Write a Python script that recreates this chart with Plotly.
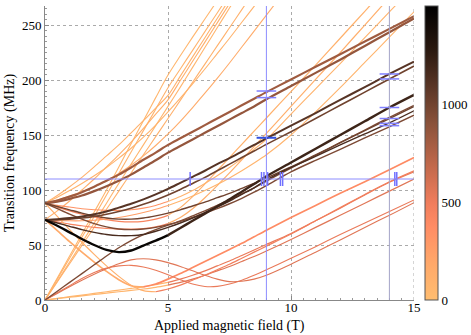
import plotly.graph_objects as go
from plotly.colors import sample_colorscale

# ---------------- data ----------------
B = [0, 0.5, 1, 1.5, 2, 2.5, 3, 3.5, 4, 4.5, 5, 5.5, 6, 6.5, 7, 7.5, 8, 8.5, 9, 10, 11, 12, 13, 14, 15]
N = None

P1 = [88, 89.5, 92, 95, 99, 103.5, 108.5, 114, 120.5, 127, 134, 140, 146, 152, 158, 164, 170, 176, 182.5, 194.5, 206.5, 218.5, 231, 243.5, 256]
P2 = [88, 90.5, 94, 98, 103, 108.5, 114, 120.5, 127.5, 134, 141, 147, 153, 159, 165, 171, 177, 183, 189, 200.5, 212, 223.5, 235, 246.5, 258]
P3 = [73, 73.5, 74.5, 76, 78, 80.5, 84, 87.5, 91.5, 96, 101, 106.5, 112, 117.5, 123.5, 129, 135, 141, 147, 158.5, 170, 182, 193.5, 205.5, 216.7]
P4 = [73, 73, 73.5, 74.5, 76, 78, 80.5, 83.5, 87, 91, 95.5, 100.5, 106, 111.5, 117.5, 123.5, 129.5, 135.5, 141.5, 153, 165, 177, 189, 201, 212.7]

D1 = [73, 67.5, 61.5, 55.5, 50, 45.5, 43.5, 45, 49.5, 54, 59, 65.5, 72, 78.5, 85, 91.5, 98.5, 105.5, 112.5, 125, 137.5, 150, 162.5, 175, 186.5]
D2 = [88, 85, 82, 79, 76.5, 74.5, 73.5, 73.5, 74.5, 76.5, 79, 82, 85.5, 89, 93, 97, 101.5, 106, 111, 121, 132, 143, 154, 165, 176]
D3 = [73, 70, 67, 64, 61.5, 59.5, 58.5, 58.5, 59.5, 62.5, 66, 70, 74.5, 79.5, 84.5, 90, 96, 102, 109, 120.5, 130.5, 141, 151, 161, 172]
D4 = [88, 83, 78, 73.5, 69.5, 66.5, 64.5, 64, 64.5, 66, 68.5, 71.5, 75, 79, 83, 87.5, 92.5, 98, 104, 116.5, 127, 137, 147.5, 157.5, 168]
D5 = [0, 8, 16, 24, 32, 40, 47.5, 54, 59.5, 64, 68, 72, 76.5, 81, 86, 91, 96.5, 102, 108, 120, 131.5, 143, 154.5, 166, 177]

K1 = [88, 84.5, 81, 78, 75.5, 73, 71.5, 71, 71.5, 73.5, 77, 84, 94, 105.5, 117.5, 129.5, 141.5, 153.5, 165.5, 189.5, 213.5, 238, 262.5, 287, N]
K2 = [73, 71, 69, 67.5, 66, 65, 64.5, 64.5, 65, 66.5, 69.5, 75, 83, 93, 104, 115.5, 127.5, 139.5, 151.5, 176, 200.5, 225, 250, 275, N]
K3 = [88, 86, 84.5, 83, 82, 81.5, 81.5, 82, 83.5, 86, 89.5, 94, 99.5, 106, 113, 120.5, 128.5, 137, 146, 169, 192, 215, 238.5, 262, 285]
K4 = [73, 72.5, 72, 72, 72.5, 73.5, 75, 77, 79.5, 82.5, 86, 90, 94.5, 99.5, 105, 111, 117.5, 124.5, 132, 150, 171, 193, 216, 239, 262]

L1 = [0, 20, 40, 60, 80, 100, 121, 142, 163, 184, 204.5, 222, 239, 255.5, 272, N, N, N, N, N, N, N, N, N, N]
L2 = [0, 19, 38, 57, 76, 95.5, 115, 134.5, 154, 173.5, 193, 210, 227, 244, 261, 278, N, N, N, N, N, N, N, N, N]
L3 = [88, 95, 103, 111.5, 121, 131, 141, 152, 163, 174.5, 186, 203.5, 221, 238.5, 256, 273.5, N, N, N, N, N, N, N, N, N]
L4 = [73, 81, 90, 100, 110, 121, 132, 143.5, 156, 169, 182, 199.5, 217, 234.5, 252, 269.5, N, N, N, N, N, N, N, N, N]
L5 = [0, 17, 34.5, 52, 70, 88, 106, 123.5, 141, 158.5, 176, 193.5, 211.5, 229.5, 247.5, 265.5, 283.5, N, N, N, N, N, N, N, N]
L6 = [88, 93.5, 99.5, 106, 113, 120.5, 129, 138, 148, 159, 171, 183.5, 196.5, 210, 224, 238, 252.5, 267, 281.5, N, N, N, N, N, N]
L7 = [0, 16.5, 33, 49.5, 66, 82.5, 99, 115.5, 132, 148.5, 165, 181.5, 198, 214.5, 231, 247.5, 264, 280.5, N, N, N, N, N, N, N]
L8 = [88, 91, 94.5, 98.5, 103, 108.5, 115, 122.5, 131, 140.5, 151, 162.5, 175, 188, 201.5, 215.5, 230, 244.5, 259, 288, N, N, N, N, N]

R1 = [73, 63, 53, 43.5, 34.5, 26, 18.5, 13, 12, 14.5, 19, 24, 29.5, 35, 40.5, 46, 51.5, 57.5, 63.5, 75, 86, 97, 107.5, 118.5, 129.5]
R2 = [88, 76, 64, 52.5, 41.5, 31, 21.5, 13.5, 8.5, 7.5, 10, 13.5, 18, 22.5, 27.5, 32.5, 38, 43.5, 49, 60, 72, 84, 96, 107.5, 117.5]
R3 = [0, 1.5, 3, 4.5, 6, 7.5, 9, 10.5, 12, 14, 16, 19, 22.5, 26.5, 31, 35.5, 40.5, 45.5, 50.5, 60.5, 72, 83.5, 95.5, 107, 116.5]
R4 = [0, 1.2, 2.5, 3.7, 5, 6.2, 7.5, 8.7, 10, 11.5, 13.5, 16, 19, 22.5, 26.5, 30.5, 35, 39.5, 44.5, 55, 66, 77, 88, 99, 110]

T1 = [0, 6.5, 13, 19.5, 25, 29, 31, 31.5, 30, 27, 23, 18.5, 14.5, 12.3, 12.4, 14.5, 18, 22.5, 27.5, 38, 48.5, 59.5, 70, 80.5, 91]
T2 = [0, 6, 12, 18, 23.5, 28.5, 33, 36.5, 37.5, 36.5, 34, 30.5, 26.5, 22.5, 19, 16.7, 17, 19, 22.5, 32.5, 43.5, 54.5, 66, 77, 88.5]

# reference field / frequency lines and resonance markers
REF_FIELDS = [9, 14]
REF_FREQ = [110]
MARK_B9 = [190, 184, 147.5]
MARK_B14 = [205.5, 201, 175, 165, 160.6, 158.5]
MARK_F110 = [5.9, 8.8, 8.9, 9.05, 9.57, 9.66, 14.22, 14.3]

CBAR_TICKS = [0, 500, 1000, 1500]
X_TICKS = [0, 5, 10, 15]
Y_TICKS = [0, 50, 100, 150, 200, 250]
X_TITLE = 'Applied magnetic field (T)'
Y_TITLE = 'Transition frequency (MHz)'

# ---------------- style ----------------
CSCALE = [[0.0, '#ffbd70'], [0.12, '#ffa96a'], [0.25, '#ff8c64'], [0.33, '#f07d5c'],
          [0.45, '#c46a4c'], [0.6, '#8a523a'], [0.72, '#5c3727'], [0.85, '#2a1910'], [1.0, '#000000']]
CMAX = 1500.0
YMAX = 267.3
FAM = 'Liberation Serif'

def col(v):
    return sample_colorscale(CSCALE, [min(max(v / CMAX, 0), 1)])[0]

# (values, split index or None, color-left, color-right, width)
curves = [
    (L1, None, 60, 60, 1.1), (L2, None, 90, 90, 1.1), (L5, None, 70, 70, 1.1), (L7, None, 110, 110, 1.1),
    (L3, None, 100, 100, 1.1), (L4, None, 130, 130, 1.1), (L6, None, 90, 90, 1.1), (L8, None, 150, 150, 1.1),
    (K1, 10, 430, 110, 1.2), (K2, 10, 450, 130, 1.2), (K3, 10, 330, 90, 1.1), (K4, 10, 250, 80, 1.1),
    (R3, 10, 60, 520, 1.2), (R4, 10, 60, 560, 1.2), (R2, 9, 120, 480, 1.2), (R1, 8, 160, 380, 1.7),
    (T1, None, 520, 520, 1.1), (T2, None, 560, 560, 1.1),
    (P1, None, 860, 860, 2.2), (P2, None, 820, 820, 2.2),
    (D5, None, 950, 950, 1.4), (D4, None, 950, 950, 1.4), (D2, None, 1000, 1000, 1.4),
    (P4, None, 1000, 1000, 1.6), (D3, None, 1150, 1150, 1.4), (P3, None, 1100, 1100, 2.0),
    (D1, 10, 1450, 1200, 2.4),
]

fig = go.Figure()
for vals, split, cl, cr, w in curves:
    if split is None:
        segs = [(B, vals, cl)]
    else:
        segs = [(B[:split + 1], vals[:split + 1], cl), (B[split:], vals[split:], cr)]
    for xs, ys, c in segs:
        fig.add_trace(go.Scatter(x=xs, y=ys, mode='lines', line=dict(color=col(c), width=w, shape='spline', smoothing=0.8),
                                 hoverinfo='skip', showlegend=False, connectgaps=False))

# reference lines
blue = '#8c8cff'
fig.add_shape(type='line', xref='x', yref='y', x0=REF_FIELDS[0], x1=REF_FIELDS[0], y0=0, y1=YMAX, line=dict(color=blue, width=1))
fig.add_shape(type='line', xref='x', yref='y', x0=REF_FIELDS[1], x1=REF_FIELDS[1], y0=0, y1=YMAX, line=dict(color='#a4a4c8', width=1))
fig.add_shape(type='line', xref='x', yref='y', x0=0, x1=15, y0=REF_FREQ[0], y1=REF_FREQ[0], line=dict(color=blue, width=1))
fig.add_shape(type='line', xref='x', yref='y', x0=15, x1=15, y0=0, y1=YMAX, line=dict(color='#aaaaaa', width=1, dash='dot'))

# resonance markers
fig.add_trace(go.Scatter(x=[REF_FIELDS[0]] * 2, y=MARK_B9[:2], mode='markers', showlegend=False, hoverinfo='skip',
                         marker=dict(symbol='line-ew', size=14, line=dict(color='#8080ff', width=1.5))))
fig.add_trace(go.Scatter(x=[REF_FIELDS[0]], y=MARK_B9[2:], mode='markers', showlegend=False, hoverinfo='skip',
                         marker=dict(symbol='line-ew', size=14, line=dict(color='#3050e0', width=2))))
fig.add_trace(go.Scatter(x=[REF_FIELDS[1]] * len(MARK_B14), y=MARK_B14, mode='markers', showlegend=False, hoverinfo='skip',
                         marker=dict(symbol='line-ew', size=14, line=dict(color='#8080ff', width=1.5))))
fig.add_trace(go.Scatter(x=MARK_F110, y=[REF_FREQ[0]] * len(MARK_F110), mode='markers', showlegend=False, hoverinfo='skip',
                         marker=dict(symbol='line-ns', size=10, line=dict(color='#7070ff', width=1.5))))

# colorbar
fig.add_trace(go.Scatter(x=[None], y=[None], mode='markers', showlegend=False, hoverinfo='skip',
                         marker=dict(color=[0], cmin=0, cmax=CMAX, colorscale=CSCALE, showscale=True,
                                     colorbar=dict(thickness=13, len=1, lenmode='fraction', y=0, yanchor='bottom',
                                                   x=1.0298, xanchor='left', xpad=0, ypad=0,
                                                   tickvals=CBAR_TICKS, ticks='', outlinewidth=1, outlinecolor='#555555',
                                                   tickfont=dict(family=FAM, size=13, color='black')))))

tfont = dict(family=FAM, size=13, color='black')
fig.update_layout(
    width=471, height=335, margin=dict(l=45, r=57, t=6, b=35, autoexpand=False),
    paper_bgcolor='white', plot_bgcolor='white', font=tfont,
    xaxis=dict(range=[0, 15], tickvals=X_TICKS, showgrid=True, gridcolor='#aaaaaa', griddash='dot', gridwidth=1,
               zeroline=False, showline=True, linecolor='#888888', linewidth=1, ticks='inside', ticklen=4, tickcolor='#888888',
               minor=dict(ticks='inside', ticklen=2, dtick=0.5, tickcolor='#999999', showgrid=False),
               automargin=False, tickfont=tfont, ticklabelstandoff=-5),
    yaxis=dict(range=[0, YMAX], tickvals=Y_TICKS, showgrid=True, gridcolor='#aaaaaa', griddash='dot', gridwidth=1,
               zeroline=False, showline=True, linecolor='#888888', linewidth=1, ticks='inside', ticklen=4, tickcolor='#888888',
               minor=dict(ticks='inside', ticklen=2, dtick=5, tickcolor='#999999', showgrid=False),
               automargin=False, tickfont=tfont),
    annotations=[
        dict(text=X_TITLE, xref='paper', yref='paper', x=0.5, y=-0.09, xanchor='center', yanchor='middle',
             showarrow=False, font=dict(family=FAM, size=14, color='black')),
        dict(text=Y_TITLE, xref='paper', yref='paper', x=-0.095, y=0.5, xanchor='center', yanchor='middle',
             textangle=-90, showarrow=False, font=dict(family=FAM, size=14, color='black')),
    ],
)

fig.write_html('out.html', config={'displayModeBar': False},
               post_script="document.body.style.margin='0';document.body.style.padding='0';")
